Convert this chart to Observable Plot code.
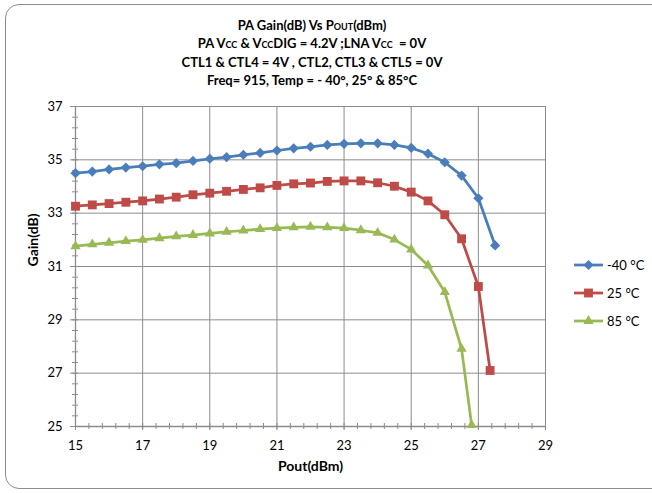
<!DOCTYPE html>
<html>
<head>
<meta charset="utf-8">
<script src="https://cdn.jsdelivr.net/npm/d3@7"></script>
<script src="https://cdn.jsdelivr.net/npm/@observablehq/plot@0.6"></script>
<style>
  html, body { margin: 0; padding: 0; background: #fff; }
  #wrap { position: relative; width: 652px; height: 493px; overflow: hidden; font-family: Lato, "Open Sans", sans-serif; }
  #border { position: absolute; left: 5px; top: 4px; width: 670px; height: 485px; border: 1px solid #8c8c8c; border-radius: 14px; box-sizing: border-box; }
  #chart { position: absolute; left: 0; top: 0; }
  #title { position: absolute; left: 112px; width: 400px; top: 16px; text-align: center; font-weight: bold; font-size: 13px; line-height: 18.3px; color: #000; }
  .sc { font-variant: small-caps; }
  #legend { position: absolute; left: 573px; top: 251px; font-size: 13px; color: #000; }
  .row { display: flex; align-items: center; height: 28px; }
  .row svg { margin-right: 3px; }
</style>
</head>
<body>
<div id="wrap">
  <div id="border"></div>
  <div id="chart"></div>
  <div id="title">
    <div>PA Gain(dB) Vs P<span class="sc">out</span>(dBm)</div>
    <div>PA V<span class="sc">cc</span> &amp; V<span class="sc">cc</span>DIG = 4.2V ;LNA V<span class="sc">cc</span>&nbsp; = 0V</div>
    <div>CTL1 &amp; CTL4 = 4V , CTL2, CTL3 &amp; CTL5 = 0V</div>
    <div>Freq= 915, Temp = - 40°, 25° &amp; 85°C</div>
  </div>
  <div id="legend"></div>
</div>
<script>
// ---- data ----
const poutM40 = [15, 15.5, 16, 16.5, 17, 17.5, 18, 18.5, 19, 19.5, 20, 20.5, 21, 21.5, 22, 22.5, 23, 23.5, 24, 24.5, 25, 25.5, 26, 26.5, 27, 27.5];
const gainM40 = [34.50, 34.56, 34.64, 34.71, 34.76, 34.83, 34.88, 34.96, 35.04, 35.10, 35.19, 35.26, 35.35, 35.43, 35.49, 35.56, 35.60, 35.62, 35.62, 35.56, 35.45, 35.23, 34.91, 34.41, 33.56, 31.79];

const pout25 = [15, 15.5, 16, 16.5, 17, 17.5, 18, 18.5, 19, 19.5, 20, 20.5, 21, 21.5, 22, 22.5, 23, 23.5, 24, 24.5, 25, 25.5, 26, 26.5, 27, 27.35];
const gain25 = [33.26, 33.31, 33.36, 33.41, 33.46, 33.53, 33.60, 33.69, 33.75, 33.82, 33.89, 33.95, 34.04, 34.10, 34.13, 34.19, 34.21, 34.21, 34.14, 34.01, 33.79, 33.46, 32.94, 32.04, 30.25, 27.10];

const pout85 = [15, 15.5, 16, 16.5, 17, 17.5, 18, 18.5, 19, 19.5, 20, 20.5, 21, 21.5, 22, 22.5, 23, 23.5, 24, 24.5, 25, 25.5, 26, 26.5, 26.8];
const gain85 = [31.76, 31.83, 31.89, 31.95, 32.00, 32.06, 32.13, 32.18, 32.24, 32.30, 32.35, 32.40, 32.44, 32.47, 32.49, 32.47, 32.44, 32.36, 32.26, 32.01, 31.64, 31.04, 30.04, 27.91, 25.05];

const seriesNames = ["-40 °C", "25 °C", "85 °C"];
const seriesColors = ["#4a7ebb", "#be4b48", "#98b954"];
const seriesSymbols = ["diamond2", "square", "triangle"];
const seriesR = [4.6, 5.0, 3.8];

const xTicks = [15, 17, 19, 21, 23, 25, 27, 29];
const yTicks = [25, 27, 29, 31, 33, 35, 37];
const xMinor = d3.range(15, 29.001, 0.4).map(v => +v.toFixed(2));
const yMinor = d3.range(25, 37.001, 0.4).map(v => +v.toFixed(2));

const xs = [poutM40, pout25, pout85];
const ys = [gainM40, gain25, gain85];
const series = seriesNames.map((name, i) => xs[i].map((x, j) => ({ name, x, y: ys[i][j] })));

const gridColor = "#8c8c8c";
const fontFam = "Lato, 'Open Sans', sans-serif";

const marks = [
  Plot.gridX(xTicks, { stroke: gridColor, strokeOpacity: 1 }),
  Plot.gridY(yTicks, { stroke: gridColor, strokeOpacity: 1 }),
  Plot.ruleX([15], { stroke: gridColor, strokeWidth: 1.3 }),
  Plot.ruleY([25], { stroke: gridColor, strokeWidth: 1.3 }),
  Plot.axisY({ ticks: yTicks, tickSize: 5, tickPadding: 8, stroke: gridColor, fontSize: 13, label: null, fill: "#000" }),
  Plot.axisY({ ticks: yMinor, tickSize: 6, dx: 3, tickFormat: () => "", stroke: gridColor, label: null }),
  Plot.axisX({ ticks: xTicks, tickSize: 4, tickPadding: 10, stroke: gridColor, fontSize: 13, label: null, fill: "#000" }),
  Plot.axisX({ ticks: xMinor, tickSize: 6, dy: -3, tickFormat: () => "", stroke: gridColor, label: null }),
  Plot.text(["Gain(dB)"], { text: d => d, frameAnchor: "left", dx: -42, rotate: -90, fontWeight: "bold", fontSize: 14 }),
  Plot.text(["Pout(dBm)"], { text: d => d, frameAnchor: "bottom", dy: 44, fontWeight: "bold", fontSize: 14 })
];
series.forEach((s, i) => {
  marks.push(Plot.line(s, { x: "x", y: "y", stroke: seriesColors[i], strokeWidth: 2.75 }));
});
series.forEach((s, i) => {
  marks.push(Plot.dot(s, { x: "x", y: "y", symbol: () => seriesSymbols[i], fill: seriesColors[i], stroke: "none", r: seriesR[i] }));
});

const chart = Plot.plot({
  width: 652,
  height: 493,
  marginLeft: 75,
  marginRight: 107,
  marginTop: 106,
  marginBottom: 67,
  style: { fontFamily: fontFam, background: "transparent", overflow: "visible" },
  x: { domain: [15, 29] },
  y: { domain: [25, 37] },
  symbol: { type: "identity" },
  marks
});
document.getElementById("chart").appendChild(chart);

// legend
const legend = document.getElementById("legend");
seriesNames.forEach((name, i) => {
  const row = document.createElement("div");
  row.className = "row";
  const svg = d3.create("svg").attr("width", 31).attr("height", 14);
  svg.append("line").attr("x1", 1).attr("x2", 30).attr("y1", 7).attr("y2", 7)
    .attr("stroke", seriesColors[i]).attr("stroke-width", 2.75);
  const symMap = { diamond2: d3.symbolDiamond2, square: d3.symbolSquare, triangle: d3.symbolTriangle };
  svg.append("path").attr("transform", "translate(15.5,7)")
    .attr("d", d3.symbol(symMap[seriesSymbols[i]], Math.PI * seriesR[i] * seriesR[i])())
    .attr("fill", seriesColors[i]);
  row.appendChild(svg.node());
  const t = document.createElement("span");
  t.textContent = name;
  row.appendChild(t);
  legend.appendChild(row);
});
</script>
</body>
</html>
